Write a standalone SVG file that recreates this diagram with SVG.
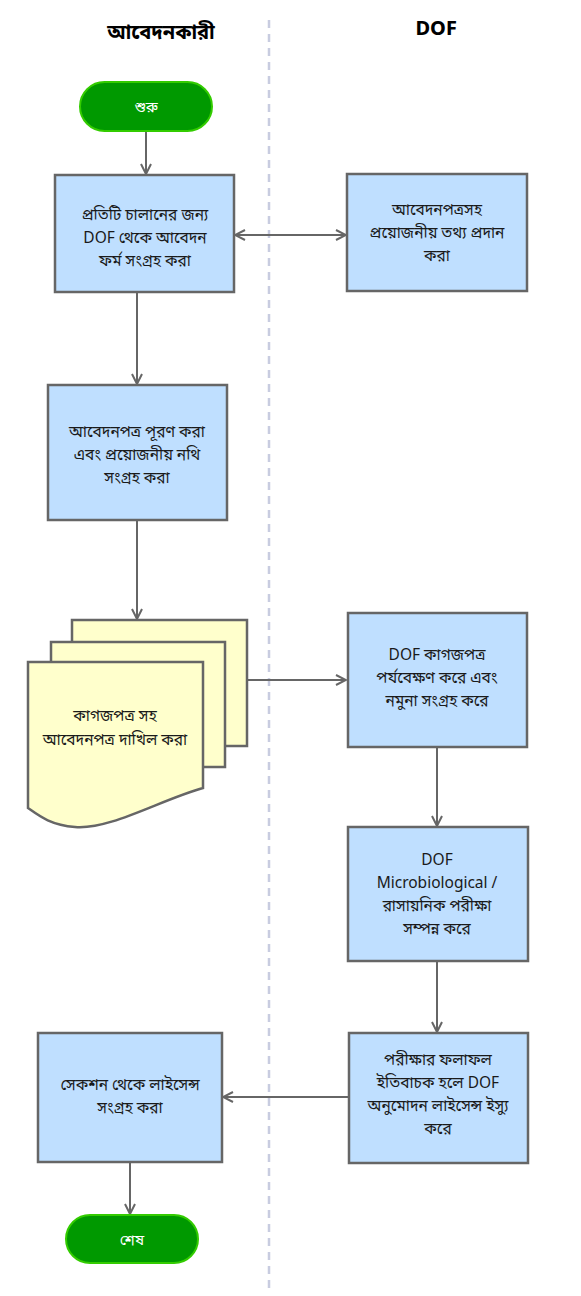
<svg xmlns="http://www.w3.org/2000/svg" width="581" height="1296" viewBox="0 0 581 1296">
<defs>
<marker id="arr" viewBox="0 0 12 12" refX="11" refY="6" markerWidth="12" markerHeight="12" markerUnits="userSpaceOnUse" orient="auto-start-reverse">
<path d="M1,1 L11,6 L1,11" fill="none" stroke="#666" stroke-width="2"/>
</marker>
</defs>
<style>
.box{fill:#bfdfff;stroke:#666;stroke-width:2.5}
.doc{fill:#ffffcc;stroke:#666;stroke-width:2.5}
.term{fill:#009900;stroke:#33cc00;stroke-width:2}
.t{font-family:"Noto Sans Bengali","Noto Sans","Liberation Sans",sans-serif;font-size:15.5px;fill:#1a1a1a;text-anchor:middle}
.tw{font-family:"Noto Sans Bengali","Noto Sans","Liberation Sans",sans-serif;font-size:15px;fill:#fff;text-anchor:middle}
.h{font-family:"Noto Sans Bengali","Liberation Sans",sans-serif;font-size:20px;font-weight:bold;fill:#000;text-anchor:middle}
.c{fill:none;stroke:#666;stroke-width:2;marker-end:url(#arr)}
</style>
<rect width="581" height="1296" fill="#fff"/>
<line x1="269" y1="20" x2="269" y2="1292" stroke="#c8cce0" stroke-width="2.5" stroke-dasharray="8,6"/>
<text class="h" x="161" y="39">আবেদনকারী</text>
<text class="h" x="436" y="35">DOF</text>
<g id="connectors">
<path class="c" d="M146,131 V174"/>
<path class="c" d="M235,235 H346" marker-start="url(#arr)"/>
<path class="c" d="M137,293 V384"/>
<path class="c" d="M137,521 V619"/>
<path class="c" d="M248,680 H346"/>
<path class="c" d="M437,748 V826"/>
<path class="c" d="M437,962 V1032"/>
<path class="c" d="M348,1097 H223"/>
<path class="c" d="M130,1162 V1214"/>
</g>
<g id="start">
<rect class="term" x="80" y="82" width="132" height="49" rx="24.5"/>
<text class="tw" x="146" y="112">শুরু</text>
</g>
<g id="n1">
<rect class="box" x="55" y="175" width="179" height="117"/>
<text class="t" x="145" y="220">প্রতিটি চালানের জন্য</text>
<text class="t" x="145" y="243">DOF থেকে আবেদন</text>
<text class="t" x="145" y="266">ফর্ম সংগ্রহ করা</text>
</g>
<g id="n2">
<rect class="box" x="347" y="174" width="180" height="117"/>
<text class="t" x="437" y="215">আবেদনপত্রসহ</text>
<text class="t" x="437" y="238">প্রয়োজনীয় তথ্য প্রদান</text>
<text class="t" x="437" y="261">করা</text>
</g>
<g id="n3">
<rect class="box" x="48" y="385" width="179" height="135"/>
<text class="t" x="137" y="437">আবেদনপত্র পূরণ করা</text>
<text class="t" x="137" y="460">এবং প্রয়োজনীয় নথি</text>
<text class="t" x="137" y="483">সংগ্রহ করা</text>
</g>
<g id="n4">
<rect class="doc" x="72" y="620" width="175" height="126"/>
<rect class="doc" x="51" y="642" width="174" height="125"/>
<path class="doc" d="M28,662 H203 V788 C160,800 110,830 75,827 C50,825 38,815 28,808 Z"/>
<text class="t" x="115" y="721">কাগজপত্র সহ</text>
<text class="t" x="115" y="745">আবেদনপত্র দাখিল করা</text>
</g>
<g id="n5">
<rect class="box" x="348" y="613" width="179" height="134"/>
<text class="t" x="437" y="660">DOF কাগজপত্র</text>
<text class="t" x="437" y="683">পর্যবেক্ষণ করে এবং</text>
<text class="t" x="437" y="706">নমুনা সংগ্রহ করে</text>
</g>
<g id="n6">
<rect class="box" x="348" y="827" width="180" height="134"/>
<text class="t" x="437" y="865">DOF</text>
<text class="t" x="437" y="888">Microbiological /</text>
<text class="t" x="437" y="911">রাসায়নিক পরীক্ষা</text>
<text class="t" x="437" y="934">সম্পন্ন করে</text>
</g>
<g id="n7">
<rect class="box" x="349" y="1033" width="179" height="130"/>
<text class="t" x="438" y="1065">পরীক্ষার ফলাফল</text>
<text class="t" x="438" y="1088">ইতিবাচক হলে DOF</text>
<text class="t" x="438" y="1111">অনুমোদন লাইসেন্স ইস্যু</text>
<text class="t" x="438" y="1134">করে</text>
</g>
<g id="n8">
<rect class="box" x="38" y="1033" width="184" height="129"/>
<text class="t" x="130" y="1090">সেকশন থেকে লাইসেন্স</text>
<text class="t" x="130" y="1113">সংগ্রহ করা</text>
</g>
<g id="end">
<rect class="term" x="66" y="1215" width="132" height="48" rx="24"/>
<text class="tw" x="132" y="1245">শেষ</text>
</g>
</svg>
